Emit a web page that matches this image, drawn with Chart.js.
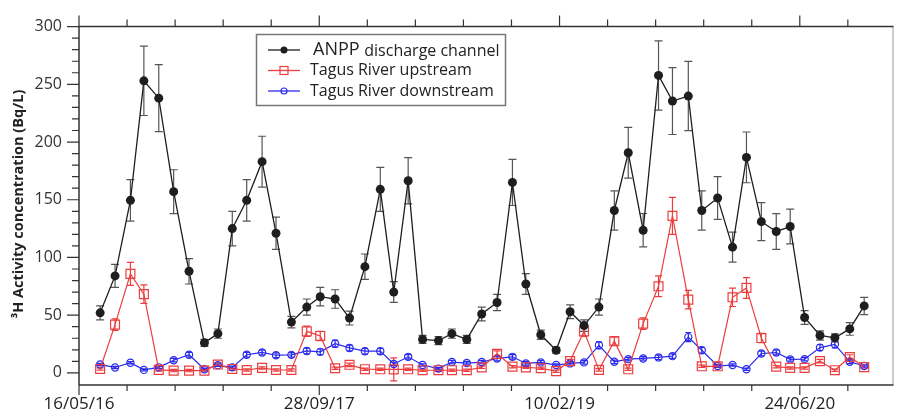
<!DOCTYPE html>
<html><head><meta charset="utf-8">
<script src="https://cdn.jsdelivr.net/npm/chart.js@4.4.1/dist/chart.umd.min.js"></script>
<style>html,body{margin:0;padding:0;background:#fff;}#wrap{width:901px;height:417px;}</style>
</head><body><div id="wrap"><canvas id="c" width="901" height="417"></canvas></div>
<script>
// Sampling days counted from 16/05/16
const sampleDays = [44,75,107,135,166,197,229,261,289,319,349,381,410,442,474,502,533,563,595,627,655,685,715,748,776,807,838,870,902,930,961,993,1022,1051,1082,1114,1143,1174,1206,1235,1268,1296,1329,1360,1389,1420,1451,1480,1510,1542,1573,1604,1634];

const anppValues = [52,84,149.5,253,238,157,88,26,34,125,149.5,183,121,44,57,66,64,47.5,92,159,70,166.5,29,28,34,29,51,61,165,77,33,19.6,53,41,57,140.7,190.7,123.6,257.7,235.5,239.8,140.7,151.5,108.9,186.7,131,122.5,126.8,48,32.4,30.4,38.1,58];
const anppErrors = [6,10,18,30,29,19,11,3,4,15,18,22,14,5,7,8,8,6,11,19,9,20,3.5,3.5,4,3.5,6,7,20,9,4,2.5,6,5,7,17,22,14.5,30,29,30,17,18.5,13,22,16.5,15.5,15,6,4,3.5,5.5,7.5];

const upValues = [3.4,41.8,85.8,68.2,2.6,2,2,2,7.2,3.4,2.5,4.3,2.5,2.5,36,32,4,7,3.2,3.1,3,3.1,2.3,2.3,2.3,2.3,4.8,16.5,5.4,4.8,4,1.5,10.2,36,2.6,27.5,3.1,42.7,75,136,63.5,5.7,5.7,65.5,73.6,30.2,5.4,4.3,4.3,10.2,2.3,13.7,5];
const upErrors = [1,5,10,8,1,1,1,1,1.5,1,1,1,1,1,4.5,4,1,1.5,1,1,10,1,1,1,1,1,1,2.5,1,1,1,1,1.5,4.5,1,3.5,1,5,9,16,8,1,1,8,9,4,1,1,1,1.5,1,2,1];

const downValues = [7.2,4.7,8.8,2.6,4.8,11,15.7,3.1,6.6,4.8,15.7,17.7,15.3,15.6,19,18.2,25.3,21.6,18.8,18.8,7.7,13.9,6.8,3.7,9.4,8.5,9.4,12.5,13.9,8.2,9.1,6.8,8.2,9.1,23.9,9.6,11.9,12.5,13.4,14.5,31,19.6,6,6.8,3.1,16.8,17.6,11.7,11.9,21.9,24.7,9.6,6];
const downErrors = [1,1,1,0.8,1,1.5,2,1,1,1,2,2,2,2,2.5,2.5,3,2.5,2.5,2.5,1.5,2,1,1,1.5,1.5,1.5,2,2,1.5,1.5,1,1.5,1.5,3,1.5,1.5,1.5,2,2,4,2.5,1,1,1,2,2,1.5,1.5,2.5,3,1.5,1];

const seriesNames = ['ANPP', 'discharge channel', 'Tagus River upstream', 'Tagus River downstream'];
const xTickDays = [0,500,1000,1500];
const xTickLabels = ['16/05/16','28/09/17','10/02/19','24/06/20'];
const yTickValues = [0,50,100,150,200,250,300];
const yTitle = '³H Activity concentration (Bq/L)';

const BLACK = '#1e1e1e', RED = 'rgb(236,62,62)', BLUE = 'rgb(42,42,236)';
const FONT = "'Open Sans', 'Noto Sans', sans-serif";

function pts(vals){ return sampleDays.map((d,i)=>({x:d, y:vals[i]})); }

const errorSets = [
  {err: anppErrors, color: '#555', cap: 4},
  {err: upErrors, color: RED, cap: 3.5},
  {err: downErrors, color: BLUE, cap: 3}
];

const errorBars = {
  id: 'errorBars',
  beforeDatasetsDraw(chart){
    const ctx = chart.ctx, ys = chart.scales.y;
    chart.data.datasets.forEach((ds, i) => {
      const meta = chart.getDatasetMeta(i), es = errorSets[i];
      ctx.save();
      ctx.strokeStyle = es.color; ctx.lineWidth = 1.2;
      meta.data.forEach((p, j) => {
        const v = ds.data[j].y, e = es.err[j];
        const t = ys.getPixelForValue(v + e), b = ys.getPixelForValue(v - e);
        ctx.beginPath();
        ctx.moveTo(p.x, t); ctx.lineTo(p.x, b);
        ctx.moveTo(p.x - es.cap, t); ctx.lineTo(p.x + es.cap, t);
        ctx.moveTo(p.x - es.cap, b); ctx.lineTo(p.x + es.cap, b);
        ctx.stroke();
      });
      ctx.restore();
    });
  }
};

const frame = {
  id: 'frame',
  afterDraw(chart){
    const ctx = chart.ctx, a = chart.chartArea, xs = chart.scales.x, ys = chart.scales.y;
    ctx.save();
    ctx.strokeStyle = '#999'; ctx.lineWidth = 1;
    ctx.beginPath(); ctx.moveTo(a.right - 0.5, a.top); ctx.lineTo(a.right - 0.5, a.bottom); ctx.stroke();
    ctx.strokeStyle = '#333'; ctx.lineWidth = 1.5;
    ctx.beginPath();
    ctx.moveTo(a.left, a.top); ctx.lineTo(a.right, a.top);
    ctx.moveTo(a.left, a.top); ctx.lineTo(a.left, a.bottom);
    ctx.moveTo(a.left, a.bottom); ctx.lineTo(a.right, a.bottom);
    ctx.stroke();
    ctx.lineWidth = 1.2;
    ctx.beginPath();
    for (let v = 0; v <= 300; v += 10) {
      const y = ys.getPixelForValue(v);
      const len = (v % 50 === 0) ? 12 : 7;
      ctx.moveTo(a.left, y); ctx.lineTo(a.left - len, y);
    }
    for (let d = 0; d <= xs.max; d += 100) {
      const x = xs.getPixelForValue(d);
      const major = d % 500 === 0;
      ctx.moveTo(x, a.bottom); ctx.lineTo(x, a.bottom + (major ? 10 : 6));
      ctx.moveTo(x, a.top); ctx.lineTo(x, a.top - (major ? 11 : 7));
    }
    ctx.stroke();
    // y axis title
    ctx.translate(19, 204);
    ctx.rotate(-Math.PI / 2);
    ctx.fillStyle = '#222'; ctx.textAlign = 'center'; ctx.textBaseline = 'middle';
    ctx.font = 'bold 14.5px ' + FONT;
    ctx.fillText(yTitle, 0, 0);
    ctx.restore();
  }
};

const legendBox = {
  id: 'legendBox',
  afterDraw(chart){
    const ctx = chart.ctx;
    ctx.save();
    ctx.strokeStyle = '#777'; ctx.lineWidth = 1.5;
    ctx.strokeRect(256.5, 34.5, 249, 71);
    const rows = [50, 70.5, 91];
    const cols = [BLACK, RED, BLUE];
    rows.forEach((y, i) => {
      ctx.strokeStyle = cols[i]; ctx.lineWidth = 1.3;
      ctx.beginPath(); ctx.moveTo(268, y); ctx.lineTo(300, y); ctx.stroke();
      if (i === 0) { ctx.fillStyle = BLACK; ctx.beginPath(); ctx.arc(284, y, 3.5, 0, Math.PI*2); ctx.fill(); }
      if (i === 1) { ctx.lineWidth = 1.2; ctx.strokeRect(280, y - 4, 8, 8); }
      if (i === 2) { ctx.lineWidth = 1.2; ctx.beginPath(); ctx.arc(284, y, 3, 0, Math.PI*2); ctx.stroke(); }
    });
    ctx.fillStyle = '#222'; ctx.textBaseline = 'middle'; ctx.textAlign = 'left';
    ctx.font = '18px ' + FONT;
    ctx.fillText(seriesNames[0], 313, rows[0]);
    const w = ctx.measureText(seriesNames[0] + ' ').width;
    ctx.font = '16px ' + FONT;
    ctx.fillText(seriesNames[1], 313 + w, rows[0] + 1);
    ctx.fillText(seriesNames[2], 310, rows[1]);
    ctx.fillText(seriesNames[3], 310, rows[2]);
    ctx.restore();
  }
};

new Chart(document.getElementById('c'), {
  type: 'line',
  data: {
    datasets: [
      {label: 'ANPP discharge channel', data: pts(anppValues), borderColor: BLACK, backgroundColor: BLACK,
       borderWidth: 1.3, pointStyle: 'circle', pointRadius: 4.5, pointBorderWidth: 0, tension: 0},
      {label: 'Tagus River upstream', data: pts(upValues), borderColor: RED, backgroundColor: 'rgba(0,0,0,0)',
       borderWidth: 1.2, pointStyle: 'rect', pointRadius: 6.3, pointBorderWidth: 1.2, pointBorderColor: RED, pointBackgroundColor: 'rgba(0,0,0,0)', tension: 0},
      {label: 'Tagus River downstream', data: pts(downValues), borderColor: BLUE, backgroundColor: 'rgba(0,0,0,0)',
       borderWidth: 1.2, pointStyle: 'circle', pointRadius: 3.6, pointBorderWidth: 1.2, pointBorderColor: BLUE, pointBackgroundColor: 'rgba(0,0,0,0)', tension: 0}
    ]
  },
  options: {
    responsive: false, animation: false, devicePixelRatio: 1,
    layout: {padding: {top: 21, right: 4, left: 0, bottom: 0}},
    plugins: {legend: {display: false}, tooltip: {enabled: false}},
    scales: {
      x: {
        type: 'linear', min: 0, max: 1695,
        grid: {display: false, drawTicks: false}, border: {display: false},
        afterBuildTicks: s => { s.ticks = xTickDays.map(v => ({value: v})); },
        afterFit: s => { s.height = 32; },
        ticks: {autoSkip: false, maxRotation: 0, padding: 9, color: '#222',
          font: {family: FONT, size: 17},
          callback: (v, i) => xTickLabels[i]}
      },
      y: {
        min: -10.5, max: 300,
        grid: {display: false, drawTicks: false}, border: {display: false},
        afterBuildTicks: s => { s.ticks = yTickValues.map(v => ({value: v})); },
        afterFit: s => { s.width = 79; },
        ticks: {padding: 17, color: '#333', font: {family: FONT, size: 16}, callback: v => String(v)}
      }
    }
  },
  plugins: [errorBars, frame, legendBox]
});
</script></body></html>
